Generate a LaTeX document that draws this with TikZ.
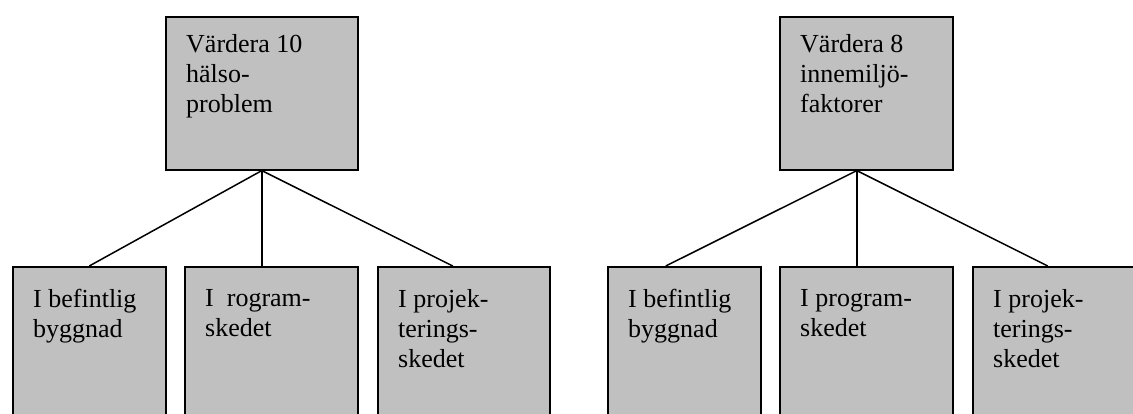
\documentclass[tikz,border=0pt]{standalone}
\usepackage{fontspec}
\setmainfont{Liberation Serif}
\definecolor{boxfill}{HTML}{C0C0C0}
\tikzset{
  box/.style={draw,fill=boxfill,line width=1.6pt,anchor=north west,inner sep=0pt},
  top box/.style={box,minimum height=153pt},
  low box/.style={box,minimum height=170pt},
  box text/.style={anchor=north west,align=left,inner sep=0pt,font=\fontsize{26}{30}\selectfont},
  link/.style={line width=1.5pt}
}

\begin{document}
\begin{tikzpicture}[x=1pt,y=-1pt]
  \useasboundingbox (0,0) rectangle (1133,414);
  \clip (0,0) rectangle (1133,414);
  % left tree: health problems
  \node[top box,minimum width=192pt] (t1) at (165,16) {};
  \node[box text] (t1txt) at ([shift={(21,18)}]t1.north west) {Värdera 10\\hälso-\\problem};
  \node[low box,minimum width=153pt] (b1) at (12,266) {};
  \node[low box,minimum width=173pt] (b2) at (184,266) {};
  \node[low box,minimum width=172pt] (b3) at (377,266) {};
  \node[box text] (b1txt) at ([shift={(21,23)}]b1.north west) {I befintlig\\byggnad};
  \node[box text] (b2txt) at ([shift={(21,23)}]b2.north west) {I\ \ rogram-\\skedet};
  \node[box text] (b3txt) at ([shift={(21,23)}]b3.north west) {I projek-\\terings-\\skedet};
  \draw[link] (t1.south) -- (b1.north);
  \draw[link] (t1.south) -- ([xshift=-9.5pt]b2.north);
  \draw[link] (t1.south) -- ([xshift=-11pt]b3.north);
  % right tree: indoor factors
  \node[top box,minimum width=173pt] (t2) at (779,16) {};
  \node[box text] (t2txt) at ([shift={(21,18)}]t2.north west) {Värdera 8\\innemiljö-\\faktorer};
  \node[low box,minimum width=153pt] (r1) at (607,266) {};
  \node[low box,minimum width=173pt] (r2) at (779,266) {};
  \node[low box,minimum width=173pt] (r3) at (972,266) {};
  \node[box text] (r1txt) at ([shift={(21,23)}]r1.north west) {I befintlig\\byggnad};
  \node[box text] (r2txt) at ([shift={(21,23)}]r2.north west) {I program-\\skedet};
  \node[box text] (r3txt) at ([shift={(21,23)}]r3.north west) {I projek-\\terings-\\skedet};
  \coordinate (t2s) at ([xshift=-9.5pt]t2.south);
  \draw[link] (t2s) -- ([xshift=-18.5pt]r1.north);
  \draw[link] (t2s) -- ([xshift=-9.5pt]r2.north);
  \draw[link] (t2s) -- ([xshift=-11.5pt]r3.north);
\end{tikzpicture}
\end{document}
